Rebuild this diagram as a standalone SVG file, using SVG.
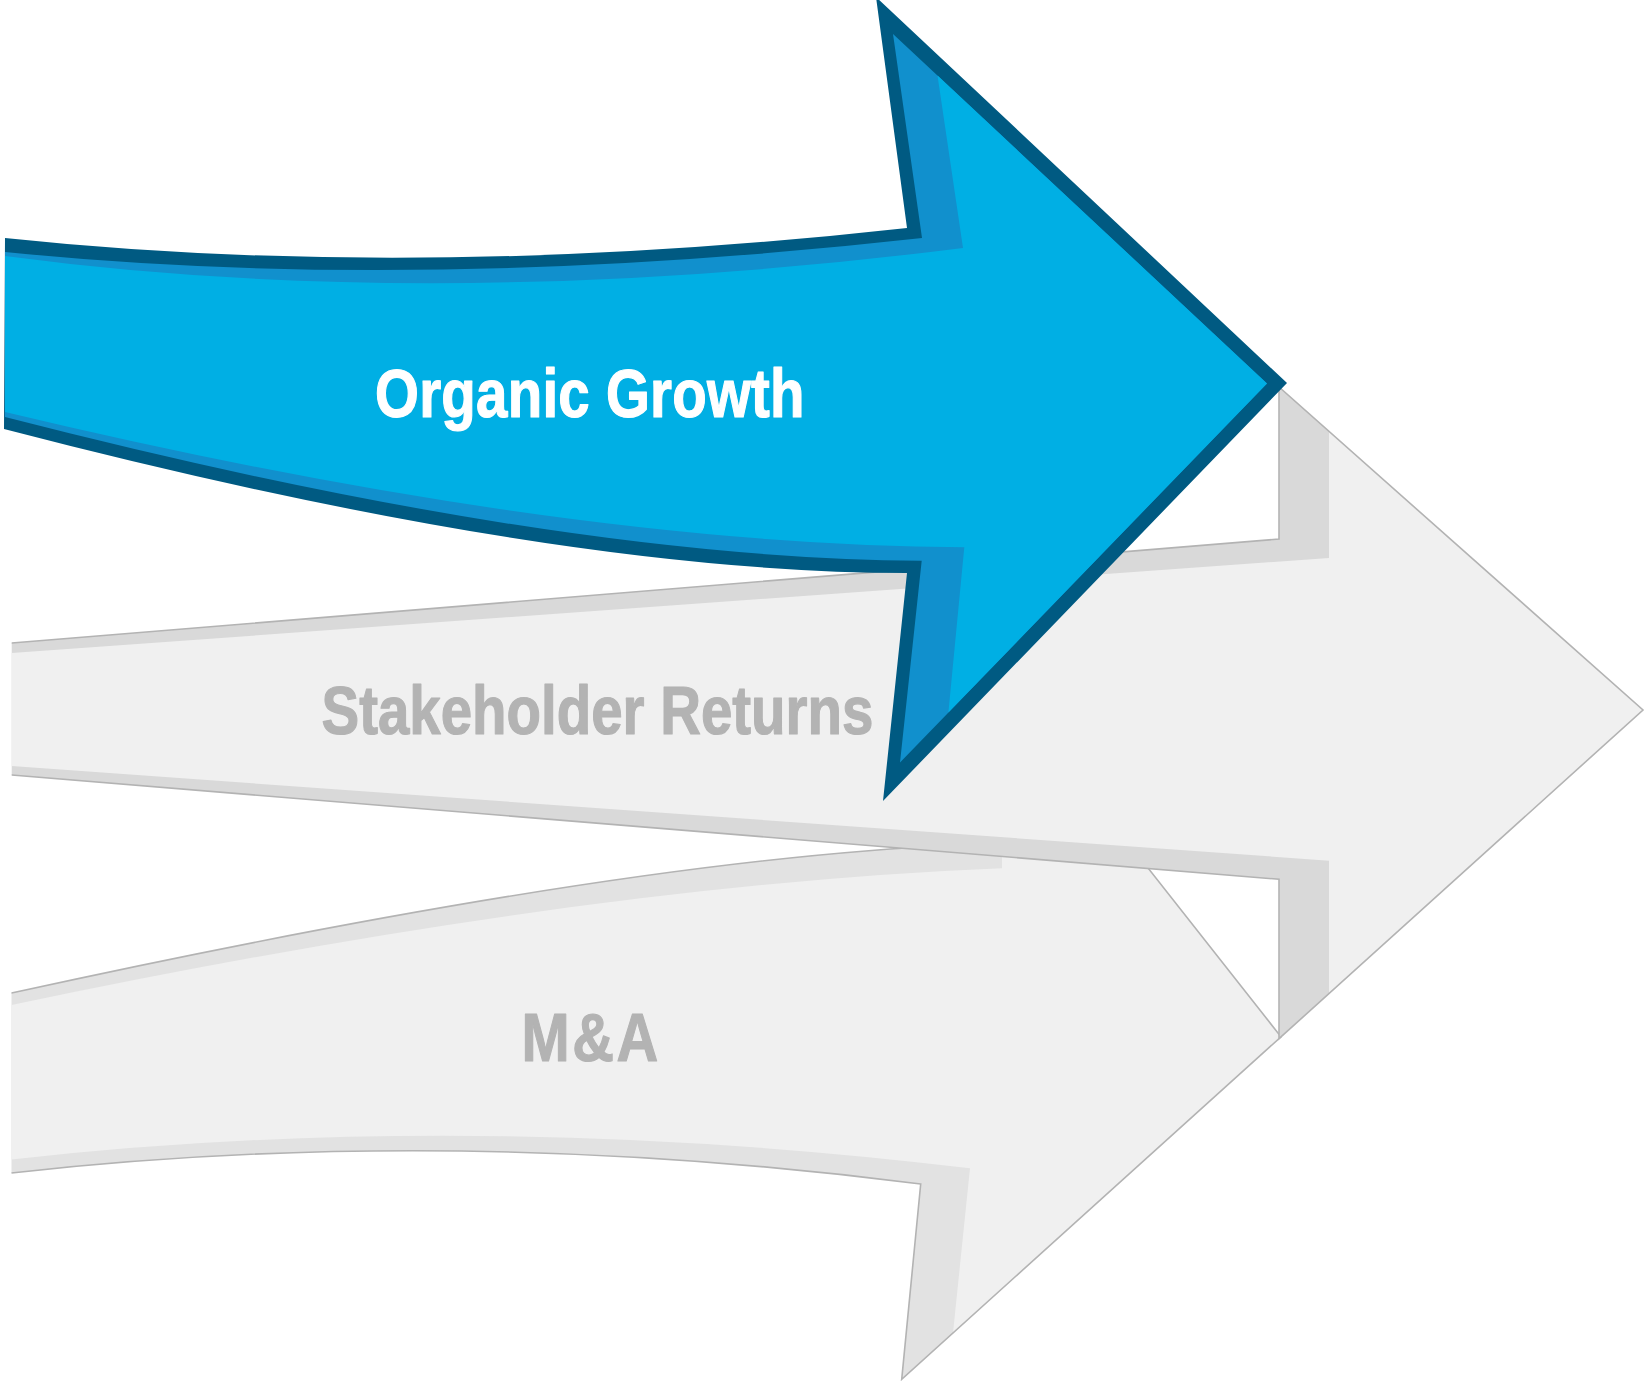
<svg xmlns="http://www.w3.org/2000/svg" width="1647" height="1381" viewBox="0 0 1647 1381">
<style>
.face{fill:#f0f0f0}
.bandA{fill:#d9d9d9}
.bandB{fill:#e2e2e2}
.outline{fill:none;stroke:#b3b3b3;stroke-width:1.6;stroke-linejoin:miter}
.dark{fill:#005a82}
.mid{fill:#1190cd}
.cyan{fill:#00afe4}
.lbl{font-family:"Liberation Sans",Arial,sans-serif;font-weight:bold;font-size:68px;stroke-width:1.2;stroke-linejoin:round}
.gray{fill:#b3b3b3;stroke:#b3b3b3}
.white{fill:#ffffff;stroke:#ffffff}
</style>
<rect width="1647" height="1381" fill="#ffffff"/>
<g id="node-ma">
  <path class="bandB" d="M11.5,993 Q618,860 960,845 L1126,840 L1281,1036.8 L901.7,1379.3 L920.7,1184 Q450,1123.5 11.5,1173 Z"/>
  <path class="face" d="M11.5,1005 Q582,885 1002,868.3 L1002,845 L1126,840 L1281,1036.8 L953,1333 L970,1168.3 Q470,1108 11.5,1159.5 Z"/>
  <path class="outline" d="M11.5,993 Q618,860 960,845 L1126,840 L1281,1036.8 L901.7,1379.3 L920.7,1184 Q450,1123.5 11.5,1173"/>
  <text class="lbl gray" transform="translate(521.6,1060.7) scale(0.85,1)" letter-spacing="3">M&amp;A</text>
</g>
<g id="node-stakeholder">
  <path class="bandA" d="M11.7,643 L1279,539 L1279,387 L1643,710 L1279,1038.7 L1279,879.3 L11.7,775 Z"/>
  <path class="face" d="M11.7,653 L1329,558 L1329,431.4 L1643,710 L1329,993.4 L1329,860.7 L11.7,766 Z"/>
  <path class="outline" d="M11.7,643 L1279,539 L1279,387 L1643,710 L1279,1038.7 L1279,879.3 L11.7,775"/>
  <text class="lbl gray" transform="translate(321.5,734) scale(0.83,1)">Stakeholder Returns</text>
</g>
<g id="node-organic">
  <path class="dark" d="M5,238 Q420,282 907,228 L876,-3 L1287,383 L883,801 L907,573 Q557,573 4,429 Z"/>
  <path class="mid" d="M5,252 Q420,294 922,238 L893,34 L1267,383.5 L900,762.5 L921.7,560.7 Q557,559 5,417 Z"/>
  <path class="cyan" d="M5,256 Q440,314 963,248 L937.5,75.5 L1267,383.5 L948.4,712.5 L964.3,547.3 Q560,545 5,412 Z"/>
  <text class="lbl white" transform="translate(375,417.3) scale(0.83,1)" letter-spacing="0.3">Organic Growth</text>
</g>
<g id="connectors"></g>
</svg>
